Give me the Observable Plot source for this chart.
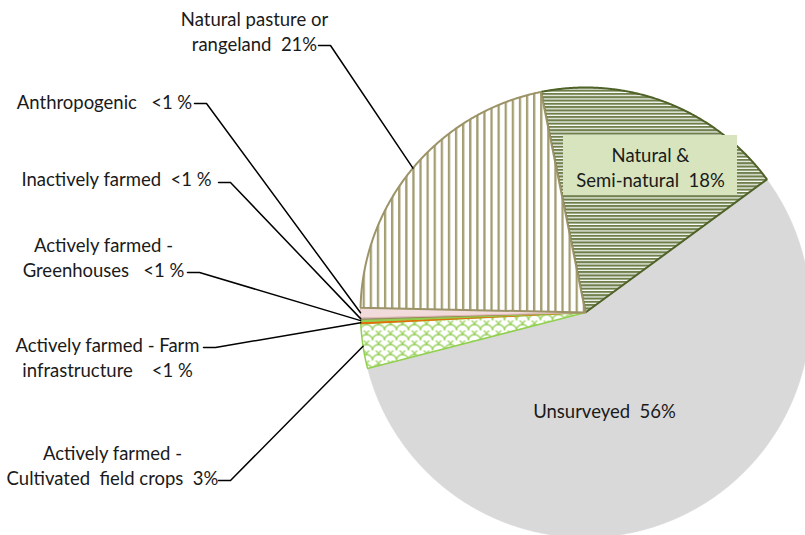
<!DOCTYPE html>
<html><head><meta charset="utf-8">
<script src="https://cdn.jsdelivr.net/npm/d3@7"></script>
<script src="https://cdn.jsdelivr.net/npm/@observablehq/plot@0.6"></script>
<style>
body{margin:0;background:#fff;}
svg text, svg tspan{white-space:pre;}
</style>
</head><body><div id="chart"></div>
<script>
// ---- data (clockwise from the top slice) ----
const categories = [
  "Natural & Semi-natural",
  "Unsurveyed",
  "Actively farmed - Cultivated field crops",
  "Actively farmed - Farm infrastructure",
  "Actively farmed - Greenhouses",
  "Inactively farmed",
  "Anthropogenic",
  "Natural pasture or rangeland"
];
const values = [18.1, 56.1, 3.2, 0.14, 0.17, 0.11, 0.72, 21.5];
const labelTexts = [
  "Natural &\nSemi-natural  18%",
  "Unsurveyed  56%",
  "Actively farmed -\nCultivated  field crops  3%",
  "Actively farmed - Farm\ninfrastructure    <1 %",
  "Actively farmed -\nGreenhouses   <1 %",
  "Inactively farmed  <1 %",
  "Anthropogenic   <1 %",
  "Natural pasture or\nrangeland  21%"
];

// ---- styles ----
const sliceFill = ["url(#hlines)", "#D9D9D9", "url(#scales)", "#E46C0A", "#92D050", "#A6A6A6", "#F2DCDB", "url(#vlines)"];
const sliceStroke = ["#4F6228", "#D9D9D9", "#92D050", "#E46C0A", "#92D050", "#948A54", "#E6B9B8", "#9C9468"];
const sliceStrokeWidth = [2, 0.5, 1.5, 1, 1, 1, 1, 2];

// ---- layout (pixels) ----
const W = 805, H = 535, CX = 585, CY = 312, R = 225, START_DEG = -11.4;
const FONT = 18.5;
// [index, text center x, text center y, leader start x, leader start y]
const outsideLayout = [
  [7, 254, 29.5, 318, 45],
  [6, 104, 100, 194, 103],
  [5, 116, 177, 218, 182],
  [4, 103, 255.5, 187, 272],
  [3, 107, 355.5, 203, 347],
  [2, 112, 463.5, 218, 480]
];
const natBox = {x1: 563, x2: 737, y1: 135, y2: 195, cx: 650, cy: 165.5};
const unsurveyedPos = {x: 604, y: 412};

const ux = px => (px - CX) / R, uy = py => (CY - py) / R;

const a0 = START_DEG * Math.PI / 180;
const arcs = d3.pie().sort(null).value(d => d).startAngle(a0).endAngle(a0 + 2 * Math.PI)(values);

function slicePoly(s) {
  const pts = [{x: 0, y: 0}];
  const n = Math.max(2, Math.ceil((s.endAngle - s.startAngle) / 0.004));
  for (let k = 0; k <= n; k++) {
    const a = s.startAngle + (s.endAngle - s.startAngle) * k / n;
    pts.push({x: Math.sin(a), y: Math.cos(a)});
  }
  return pts;
}
const drawOrder = [1, 0, 2, 3, 4, 5, 6, 7];

const sliceMarks = drawOrder.map(i => Plot.line(slicePoly(arcs[i]), {
  x: "x", y: "y", curve: "linear-closed",
  fill: sliceFill[i], stroke: sliceStroke[i], strokeWidth: sliceStrokeWidth[i], strokeLinejoin: "miter"
}));

const leaderMarks = outsideLayout.map(([i, , , sx, sy]) => {
  const mid = (arcs[i].startAngle + arcs[i].endAngle) / 2;
  return Plot.line([
    {x: ux(sx), y: uy(sy)},
    {x: ux(sx + 12), y: uy(sy)},
    {x: Math.sin(mid), y: Math.cos(mid)}
  ], {x: "x", y: "y", stroke: "#000", strokeWidth: 1.5});
});

const outsideText = Plot.text(outsideLayout, {
  x: d => ux(d[1]), y: d => uy(d[2]), text: d => labelTexts[d[0]],
  textAnchor: "middle", lineAnchor: "middle", fontSize: FONT, lineHeight: 25 / FONT, fill: "#1a1a1a"
});

const plot = Plot.plot({
  width: W, height: H, margin: 0,
  style: {fontFamily: "Lato, 'Open Sans', sans-serif", background: "#fff", overflow: "hidden"},
  x: {domain: [ux(0), ux(W)], axis: null},
  y: {domain: [uy(H), uy(0)], axis: null},
  marks: [
    ...sliceMarks,
    Plot.rect([natBox], {x1: d => ux(d.x1), x2: d => ux(d.x2), y1: d => uy(d.y2), y2: d => uy(d.y1), fill: "#D7E4BD"}),
    Plot.text([natBox], {x: d => ux(d.cx), y: d => uy(d.cy), text: () => labelTexts[0], textAnchor: "middle", lineAnchor: "middle", fontSize: FONT, lineHeight: 25 / FONT, fill: "#1a1a1a"}),
    Plot.text([unsurveyedPos], {x: d => ux(d.x), y: d => uy(d.y), text: () => labelTexts[1], textAnchor: "middle", lineAnchor: "middle", fontSize: FONT, fill: "#1a1a1a"}),
    ...leaderMarks,
    outsideText
  ]
});

d3.select(plot).insert("defs", ":first-child").html(`
  <pattern id="vlines" patternUnits="userSpaceOnUse" width="7.1" height="10">
    <rect width="7.1" height="10" fill="#fff"/>
    <rect x="0" y="0" width="2.3" height="10" fill="#A39D72"/>
  </pattern>
  <pattern id="hlines" patternUnits="userSpaceOnUse" width="10" height="3.3">
    <rect width="10" height="3.3" fill="#fff"/>
    <rect x="0" y="0" width="10" height="2.1" fill="#6E7F4A"/>
  </pattern>
  <pattern id="scales" patternUnits="userSpaceOnUse" width="12" height="10">
    <rect width="12" height="10" fill="#fff"/>
    <path d="M0,10 A6,6 0 0 1 12,10 M-6,5 A6,6 0 0 1 6,5 M6,5 A6,6 0 0 1 18,5 M0,0 A6,6 0 0 1 12,0" fill="none" stroke="#9AD060" stroke-width="1.3"/>
  </pattern>
`);
document.getElementById("chart").appendChild(plot);
</script>
</body></html>
